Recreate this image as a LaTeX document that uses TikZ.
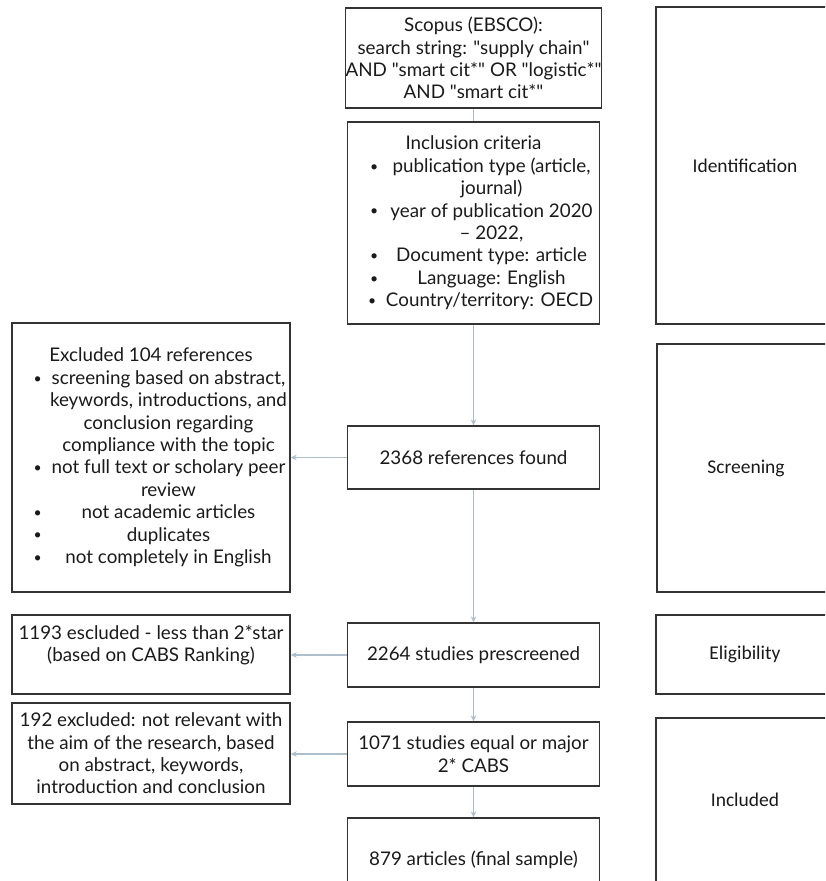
\documentclass[tikz,border=0pt]{standalone}
\usepackage{fontspec}
\setmainfont{Lato}[Ligatures=TeXOff]
\newfontfamily\sidefont{Carlito}
\usetikzlibrary{arrows.meta}
\definecolor{conn}{HTML}{AFBECB}
\definecolor{boxc}{HTML}{333333}
\definecolor{txt}{HTML}{1A1A1A}
\newcommand\mainsz{\fontsize{18.8}{22.4}\selectfont}
\newcommand\sidesz{\fontsize{19.5}{22}\selectfont\sidefont}
\newcommand\dotb{\raisebox{1.3pt}{\fontsize{14}{14}\selectfont\textbullet}}
\newcommand\bulA{\hspace*{20.5pt}\dotb}
\newcommand\bulB{\hspace*{21.5pt}\dotb}
\newcommand\rowA[2]{\makebox[36pt][l]{#1}\makebox[212pt]{#2}\hspace*{4pt}}
\newcommand\rowB[2]{\makebox[35pt][l]{#1}\makebox[243pt]{#2}}
\begin{document}
\begin{tikzpicture}[x=1pt,y=-1pt,
  box/.style={draw=boxc, line width=1.3pt, inner sep=0pt, align=center, font=\mainsz, text=txt},
  sidebox/.style={draw=boxc, line width=1.3pt, inner sep=0pt, align=center, font=\sidesz, text=txt},
  link/.style={draw=conn, line width=1.4pt},
  arr/.style={link, -{Stealth[length=6pt,width=5.5pt]}}]
\useasboundingbox (0,0) rectangle (825,881);
\clip (0,0) rectangle (825,881);

% central column
\node[box, minimum width=252pt, minimum height=100pt] (scopus) at (473.5,58)
  {Scopus (EBSCO):\\search string: "supply chain"\\AND "smart cit*" OR "logistic*"\\AND "smart cit*"};
\node[box, minimum width=252pt, minimum height=202pt] (incl) at (473.5,223)
  {Inclusion criteria\\
   \rowA{\bulA}{publication type (article,}\\
   \rowA{}{journal)}\\
   \rowA{\bulA}{year of publication 2020}\\
   \rowA{}{– 2022,}\\
   \rowA{\bulA}{Document type: article}\\
   \rowA{\bulA}{Language: English}\\
   \rowA{\bulA}{Country/territory: OECD}};
\node[box, minimum width=252pt, minimum height=63pt] (found) at (473.5,457.5) {2368 references found};
\node[box, minimum width=252pt, minimum height=64pt] (presc) at (473.5,655) {2264 studies prescreened};
\node[box, minimum width=252pt, minimum height=64pt] (cabs) at (473.5,754) {1071 studies equal or major\\2* CABS};
\node[box, minimum width=252pt, minimum height=84pt] (final) at (473.5,860) {879 articles (final sample)};

% left column
\node[box, minimum width=278pt, minimum height=269pt] (excl) at (151,457.5)
  {Excluded 104 references\\
   \rowB{\bulB}{screening based on abstract,}\\
   \rowB{}{keywords, introductions, and}\\
   \rowB{}{conclusion regarding}\\
   \rowB{}{compliance with the topic}\\
   \rowB{\bulB}{not full text or scholary peer}\\
   \rowB{}{review}\\
   \rowB{\bulB}{not academic articles}\\
   \rowB{\bulB}{duplicates}\\
   \rowB{\bulB}{not completely in English}};
\node[box, minimum width=278pt, minimum height=79pt] (star) at (151,654.5)
  {1193 escluded - less than 2*star\\(based on CABS Ranking)\\\mbox{}};
\node[box, minimum width=278pt, minimum height=101pt] (aim) at (151,753.5)
  {192 excluded: not relevant with\\the aim of the research, based\\on abstract, keywords,\\introduction and conclusion};

% right column
\node[sidebox, minimum width=178pt, minimum height=317pt] (ident) at (745,165.5) {Identification};
\node[sidebox, minimum width=178pt, minimum height=248pt] (screen) at (746,468) {Screening};
\node[sidebox, minimum width=178pt, minimum height=79pt] (elig) at (745,654.5) {Eligibility};
\node[sidebox, minimum width=178pt, minimum height=164pt] (inc) at (745,800) {Included};

% connectors
\draw[link] (scopus.south) -- (incl.north);
\draw[arr] (incl.south) -- (found.north);
\draw[arr] (found.south) -- (presc.north);
\draw[arr] (presc.south) -- (cabs.north);
\draw[arr] (cabs.south) -- (final.north);
\draw[arr] (found.west) -- (excl.east |- found.west);
\draw[arr] (presc.west) -- (star.east |- presc.west);
\draw[arr] (cabs.west) -- (aim.east |- cabs.west);
\end{tikzpicture}
\end{document}
